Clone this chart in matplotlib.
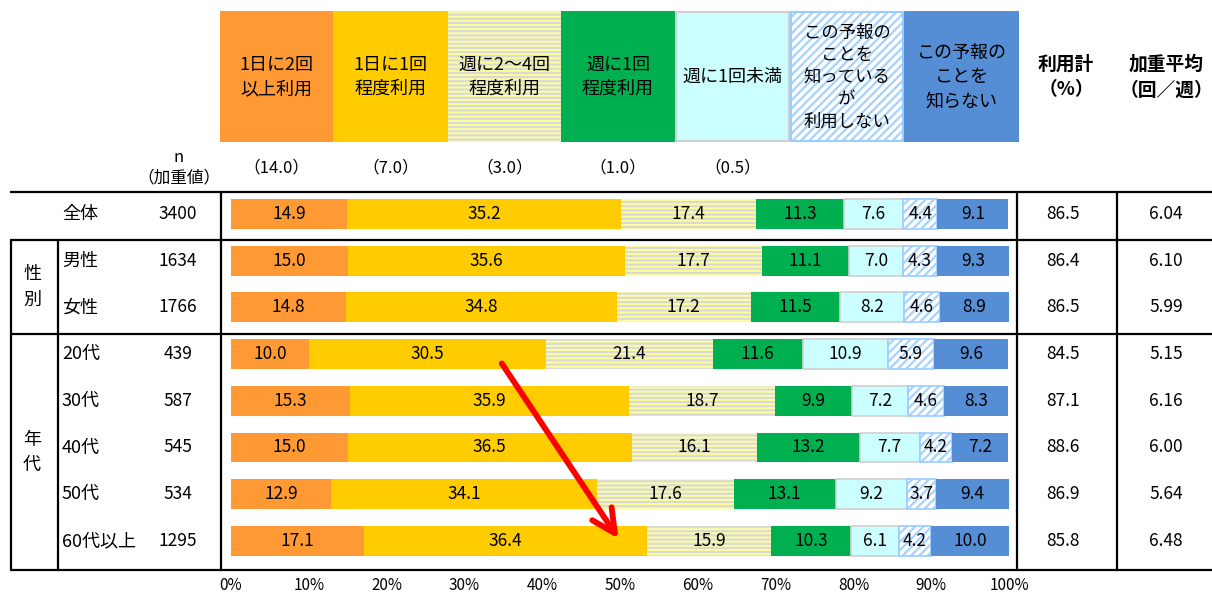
import numpy as np
import matplotlib
matplotlib.use('Agg')
import matplotlib.pyplot as plt
from matplotlib.patches import Rectangle

plt.rcParams['font.family'] = ['Noto Sans CJK JP', 'DejaVu Sans']
plt.rcParams['hatch.linewidth'] = 1.6

# --- data ---
categories = ['1日に2回\n以上利用', '1日に1回\n程度利用', '週に2～4回\n程度利用', '週に1回\n程度利用',
              '週に1回未満', 'この予報の\nことを\n知っている\nが\n利用しない', 'この予報の\nことを\n知らない']
weights = ['（14.0）', '（7.0）', '（3.0）', '（1.0）', '（0.5）', '', '']
rows = ['全体', '男性', '女性', '20代', '30代', '40代', '50代', '60代以上']
n_values = ['3400', '1634', '1766', '439', '587', '545', '534', '1295']
shares = np.array([
    [14.9, 35.2, 17.4, 11.3, 7.6, 4.4, 9.1],
    [15.0, 35.6, 17.7, 11.1, 7.0, 4.3, 9.3],
    [14.8, 34.8, 17.2, 11.5, 8.2, 4.6, 8.9],
    [10.0, 30.5, 21.4, 11.6, 10.9, 5.9, 9.6],
    [15.3, 35.9, 18.7, 9.9, 7.2, 4.6, 8.3],
    [15.0, 36.5, 16.1, 13.2, 7.7, 4.2, 7.2],
    [12.9, 34.1, 17.6, 13.1, 9.2, 3.7, 9.4],
    [17.1, 36.4, 15.9, 10.3, 6.1, 4.2, 10.0],
])
usage_total = ['86.5', '86.4', '86.5', '84.5', '87.1', '88.6', '86.9', '85.8']
weighted_avg = ['6.04', '6.10', '5.99', '5.15', '6.16', '6.00', '5.64', '6.48']

# segment styles: face, hatch colour, hatch, border colour
styles = [
    dict(fc='#FF9933', hc='#FF9933', hatch=None, ec=None),
    dict(fc='#FFCC00', hc='#FFCC00', hatch=None, ec=None),
    dict(fc='#FFFF99', hc='#D9D9D9', hatch='----', ec=None),
    dict(fc='#00B050', hc='#00B050', hatch=None, ec=None),
    dict(fc='#CCFFFF', hc='#CCFFFF', hatch=None, ec='#D0D0D0'),
    dict(fc='white', hc='#A6D2FF', hatch='////', ec='#99CCFF'),
    dict(fc='#558ED5', hc='#558ED5', hatch=None, ec=None),
]

W, H = 1212, 592
fig = plt.figure(figsize=(W / 100, H / 100), dpi=100)

# bar area in pixel terms
x0, x1 = 231, 1009
y_top, y_bot = 192, 570
row0, step = 214, 46.7
ax = fig.add_axes([x0 / W, 1 - y_bot / H, (x1 - x0) / W, (y_bot - y_top) / H])
ax.set_xlim(0, 100)
ax.set_ylim((y_bot - row0) / step, (y_top - row0) / step)

ypos = np.arange(len(rows))
left = np.zeros(len(rows))
for j, st in enumerate(styles):
    vals = shares[:, j]
    ax.barh(ypos, vals, left=left, height=0.64, color=st['fc'], edgecolor=st['hc'],
            hatch=st['hatch'], linewidth=0)
    if st['ec']:
        ax.barh(ypos, vals, left=left, height=0.64, fill=False, edgecolor=st['ec'],
                linewidth=1.2)
    for i, v in enumerate(vals):
        ax.text(left[i] + v / 2, i, f'{v:.1f}', ha='center', va='center', fontsize=12.5)
    left += vals

ax.set_xticks(np.arange(0, 101, 10))
ax.set_xticklabels([f'{t}%' for t in range(0, 101, 10)], fontsize=11)
ax.tick_params(axis='x', length=0, pad=5)
ax.set_yticks([])
for s in ax.spines.values():
    s.set_visible(False)

ax.annotate('', xy=(50.0, 7.0), xytext=(34.6, 3.15),
            arrowprops=dict(arrowstyle='->', color='red', lw=4.2, mutation_scale=42),
            annotation_clip=False)

# overlay in pixel coordinates for the table frame and headers
ov = fig.add_axes([0, 0, 1, 1])
ov.set_xlim(0, W)
ov.set_ylim(H, 0)
ov.axis('off')

# header boxes
box_edges = [220, 333, 448, 561, 675, 790, 904, 1019]
for j, st in enumerate(styles):
    bx, bw = box_edges[j], box_edges[j + 1] - box_edges[j]
    ov.add_patch(Rectangle((bx, 11), bw, 131, facecolor=st['fc'], edgecolor=st['hc'],
                           hatch=st['hatch'], linewidth=0))
    if st['ec']:
        ov.add_patch(Rectangle((bx + 1, 12), bw - 2, 129, fill=False,
                               edgecolor=st['ec'], linewidth=1.5))
    ov.text(bx + bw / 2, 77, categories[j], ha='center', va='center',
            fontsize=12.5 if j == 5 else 13,
            linespacing=1.3 if j == 5 else 1.45)
    ov.text(bx + bw / 2, 168, weights[j], ha='center', va='center', fontsize=12)

ov.text(1066, 77, '利用計\n（%）', ha='center', va='center', fontsize=13.5,
        fontweight='bold', linespacing=1.45)
ov.text(1166, 77, '加重平均\n（回／週）', ha='center', va='center', fontsize=13.5,
        fontweight='bold', linespacing=1.45)
ov.text(179, 157, 'n', ha='center', va='center', fontsize=12)
ov.text(179, 178, '（加重値）', ha='center', va='center', fontsize=12)

# row labels and right-hand columns
for i in range(len(rows)):
    y = row0 + i * step
    ov.text(62, y, rows[i], ha='left', va='center', fontsize=13)
    ov.text(178, y, n_values[i], ha='center', va='center', fontsize=12.5)
    ov.text(1063, y, usage_total[i], ha='center', va='center', fontsize=12.5)
    ov.text(1166, y, weighted_avg[i], ha='center', va='center', fontsize=12.5)

ov.text(32, 287, '性\n別', ha='center', va='center', fontsize=13, linespacing=1.5)
ov.text(32, 452, '年\n代', ha='center', va='center', fontsize=13, linespacing=1.5)

# table lines
lw = 1.6
for y in (192, 240, 334, 570):
    ov.plot([10, W], [y, y], color='black', lw=lw, solid_capstyle='butt')
for x, ya in ((11, 240), (58, 240), (221, 192), (1017, 192), (1117, 192)):
    ov.plot([x, x], [ya, 570], color='black', lw=lw, solid_capstyle='butt')

fig.savefig('out.png', dpi=100)
